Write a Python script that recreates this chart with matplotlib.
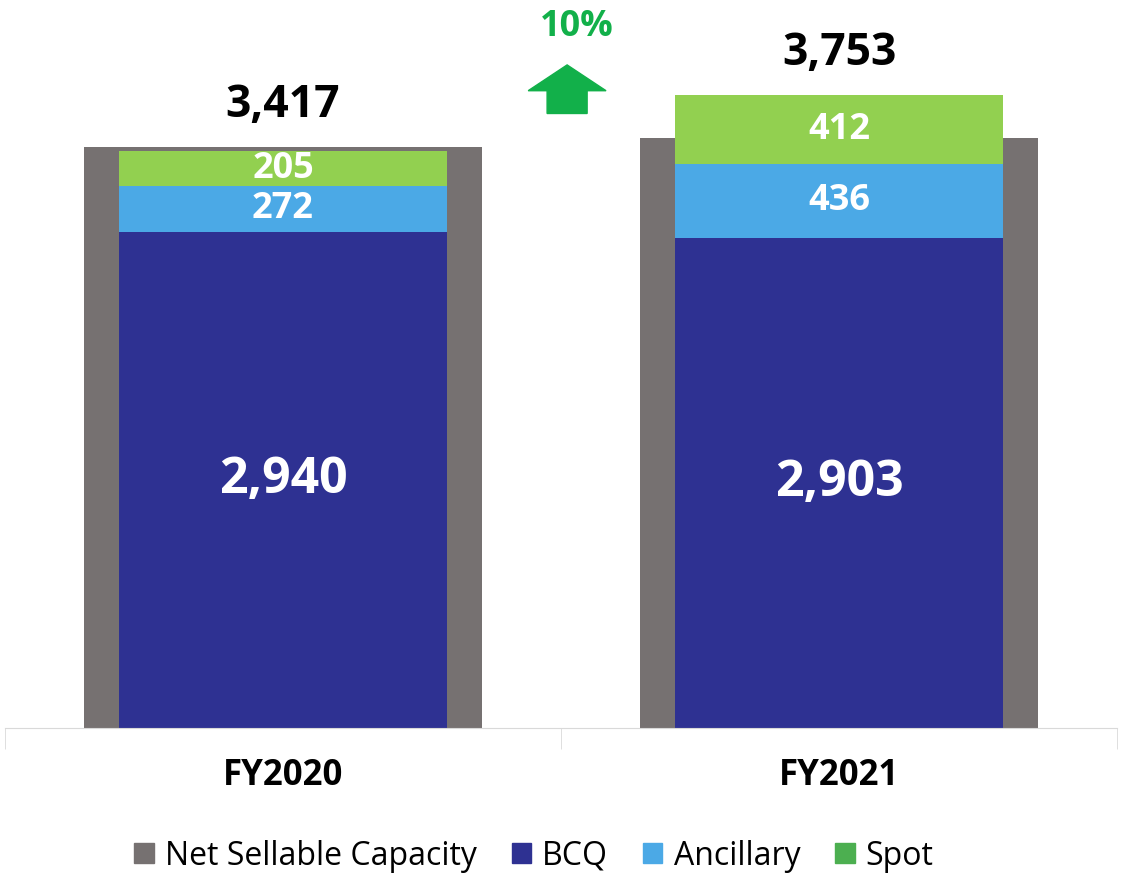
import matplotlib
matplotlib.use("Agg")
import matplotlib.pyplot as plt
from matplotlib.patches import Patch, FancyArrow

plt.rcParams['font.family'] = ['Open Sans', 'DejaVu Sans']

# data
years = ['FY2020', 'FY2021']
capacity = [3444, 3497]   # Net Sellable Capacity
bcq = [2940, 2903]
ancillary = [272, 436]
spot = [205, 412]
totals = [3417, 3753]
growth = '10%'

c_cap = '#767171'
c_bcq = '#2E3192'
c_anc = '#4BA9E6'
c_spot = '#92D050'
c_spot_leg = '#4CAF50'
c_green = '#12B04A'

W, H = 1127, 880
fig = plt.figure(figsize=(W / 100, H / 100), dpi=100)
base_px = 727.5
ax = fig.add_axes([5 / W, (H - base_px) / H, 1112 / W, base_px / H])
px_per_unit = 0.16864
ax.set_ylim(0, base_px / px_per_unit)
ax.set_xlim(-0.5, 1.5)

x = list(range(len(years)))
ax.bar(x, capacity, width=0.716, color=c_cap, zorder=1)
ax.bar(x, bcq, width=0.59, color=c_bcq, zorder=2)
ax.bar(x, ancillary, width=0.59, bottom=bcq, color=c_anc, zorder=2)
bot2 = [b + a for b, a in zip(bcq, ancillary)]
ax.bar(x, spot, width=0.59, bottom=bot2, color=c_spot, zorder=2)

for i in x:
    ax.text(i, bcq[i] / 2, f'{bcq[i]:,}', ha='center', va='center',
            color='white', fontsize=36, fontweight='bold', zorder=3)
    ax.text(i, bcq[i] + ancillary[i] / 2, f'{ancillary[i]:,}', ha='center', va='center',
            color='white', fontsize=26, fontweight='bold', zorder=3)
    ax.text(i, bot2[i] + spot[i] / 2, f'{spot[i]:,}', ha='center', va='center',
            color='white', fontsize=26, fontweight='bold', zorder=3)
    top = max(totals[i], capacity[i])
    ax.annotate(f'{totals[i]:,}', (i, top), xytext=(0, 19), textcoords='offset pixels',
                ha='center', va='bottom', fontsize=32, fontweight='bold', color='black')
    ax.text(i, -48 / px_per_unit, years[i], ha='center', va='center',
            fontsize=25, fontweight='bold', color='black', clip_on=False)

# growth arrow
ax.add_patch(FancyArrow(0.511, 3641, 0, 288, width=0.072, head_width=0.140,
                        head_length=153, length_includes_head=True,
                        color=c_green, zorder=3))
ax.text(0.529, 4154, growth, ha='center', va='center', fontsize=26,
        fontweight='bold', color=c_green)

for s in ['top', 'left', 'right']:
    ax.spines[s].set_visible(False)
ax.spines['bottom'].set_color('#D9D9D9')
ax.set_yticks([])
ax.set_xticks([])
ax.set_xticks([-0.5, 0.5, 1.5], minor=True)
ax.tick_params(axis='x', which='minor', length=15, color='#D9D9D9', labelbottom=False)

handles = [Patch(color=c_cap), Patch(color=c_bcq), Patch(color=c_anc), Patch(color=c_spot_leg)]
labels = ['Net Sellable Capacity', 'BCQ', 'Ancillary', 'Spot']
fig.legend(handles, labels, loc='center', bbox_to_anchor=(534 / W, (H - 856) / H),
           ncol=4, frameon=False, fontsize=23, handlelength=0.6, handleheight=0.6,
           handletextpad=0.35, columnspacing=1.1)

fig.savefig('out.png', dpi=100)
